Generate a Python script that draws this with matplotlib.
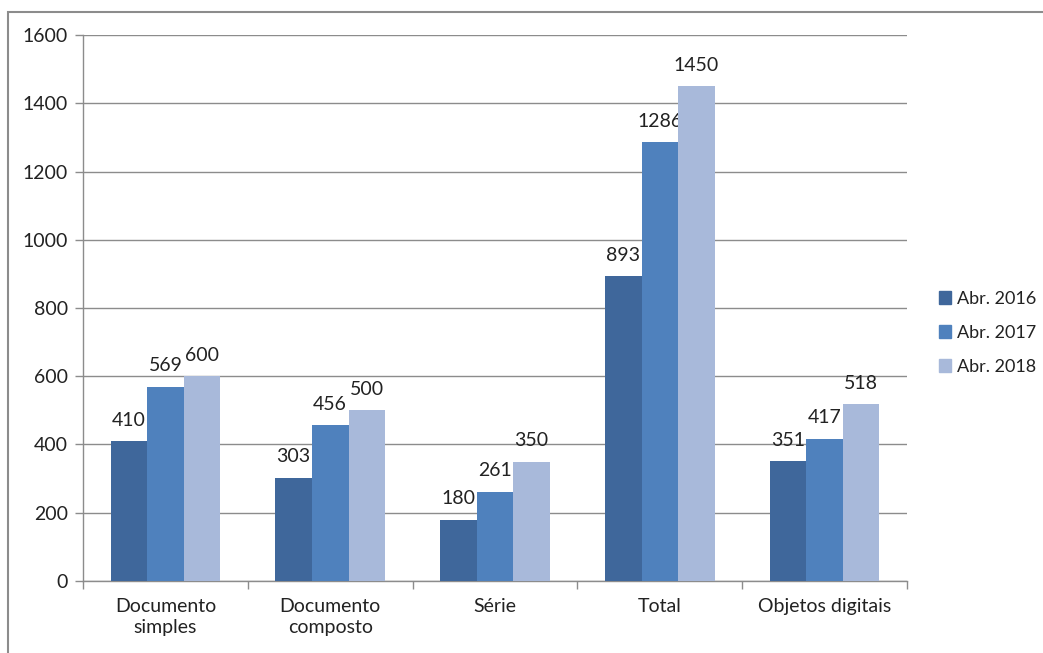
import matplotlib
matplotlib.use("Agg")
import matplotlib.pyplot as plt
import numpy as np
from matplotlib.patches import Rectangle

categories = ["Documento\nsimples", "Documento\ncomposto", "Série", "Total", "Objetos digitais"]
series_names = ["Abr. 2016", "Abr. 2017", "Abr. 2018"]
v2016 = [410, 303, 180, 893, 351]
v2017 = [569, 456, 261, 1286, 417]
v2018 = [600, 500, 350, 1450, 518]
yticks = [0, 200, 400, 600, 800, 1000, 1200, 1400, 1600]

colors = ["#3F679B", "#4F81BD", "#A8B9DA"]
series = [v2016, v2017, v2018]

plt.rcParams['font.family'] = ['Lato', 'DejaVu Sans']
FS = 14

fig = plt.figure(figsize=(10.43, 6.53), dpi=100)
ax = fig.add_axes([0.0796, 0.1103, 0.790, 0.836])

x = np.arange(len(categories))
w = 0.222
for i, (vals, c, name) in enumerate(zip(series, colors, series_names)):
    pos = x + (i - 1) * w
    ax.bar(pos, vals, width=w, color=c, label=name, zorder=3)
    for p, v in zip(pos, vals):
        ax.annotate(str(v), (p, v), xytext=(0, 9), textcoords="offset points",
                    ha="center", va="bottom", fontsize=FS, color="#222222")

ax.set_xlim(-0.5, len(categories) - 0.5)
ax.set_ylim(0, 1600)
ax.set_yticks(yticks)
ax.yaxis.grid(True, color="#8C8C8C", linewidth=1.0, zorder=0)
ax.set_axisbelow(True)

ax.set_xticks(x)
ax.set_xticklabels(categories, fontsize=FS, color="#222222", linespacing=1.3)
ax.tick_params(axis="x", length=0, pad=12)
ax.set_xticks(np.arange(-0.5, len(categories), 1.0), minor=True)
ax.tick_params(axis="x", which="minor", length=6, color="#8C8C8C", width=1.0)
ax.tick_params(axis="y", length=6, color="#8C8C8C", width=1.0, labelsize=FS,
               labelcolor="#222222", pad=5)

for s in ["top", "right"]:
    ax.spines[s].set_visible(False)
for s in ["left", "bottom"]:
    ax.spines[s].set_color("#8C8C8C")
    ax.spines[s].set_linewidth(1.0)

handles = [Rectangle((0, 0), 1, 1, color=c) for c in colors]
fig.legend(handles, series_names, loc="center left", bbox_to_anchor=(0.888, 0.49),
           frameon=False, fontsize=13, handlelength=0.7, handleheight=0.7,
           handletextpad=0.3, labelspacing=1.0, labelcolor="#222222",
           borderpad=0.2)

border = Rectangle((8 / 1043, -0.1), 1.2, 0.1 + 1 - 12 / 653, transform=fig.transFigure,
                   fill=False, edgecolor="#8C8C8C", linewidth=1.5)
fig.patches.append(border)

fig.savefig("out.png", dpi=100)
